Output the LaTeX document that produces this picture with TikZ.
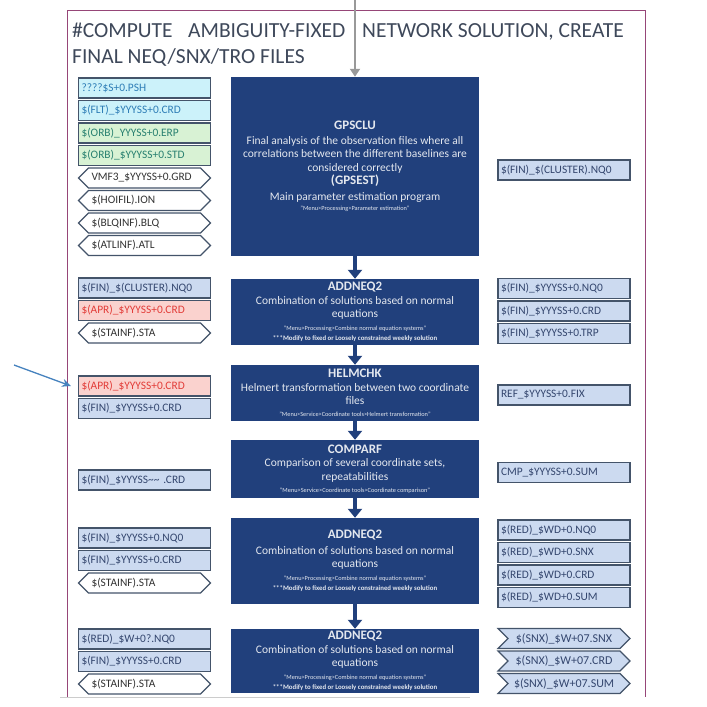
\documentclass[tikz,border=0pt]{standalone}
\usepackage{fontspec}
\setmainfont{Carlito}
\usetikzlibrary{arrows.meta,shapes.symbols}
\definecolor{navy}{RGB}{33,64,124}
\definecolor{framecol}{RGB}{150,70,120}
\definecolor{edgecol}{RGB}{68,84,106}
\definecolor{titlecol}{RGB}{62,72,90}
\definecolor{pointcol}{RGB}{70,130,190}
\definecolor{aquafill}{RGB}{204,242,250}
\definecolor{aquatext}{RGB}{46,125,182}
\definecolor{greenfill}{RGB}{216,242,212}
\definecolor{greentext}{RGB}{40,128,112}
\definecolor{pinkfill}{RGB}{250,210,206}
\definecolor{pinktext}{RGB}{226,60,56}
\definecolor{bluefill}{RGB}{204,218,240}
\definecolor{bluetext}{RGB}{52,70,110}
\def\progtitle#1{{\fontsize{13}{13.5}\selectfont\bfseries #1}}
\def\menuline#1{{\fontsize{6.3}{6.5}\selectfont "#1"}}
\def\modline{{\fontsize{6.8}{7}\selectfont\bfseries ***Modify to fixed or Loosely constrained weekly solution}}
\tikzset{
  file/.style={draw=edgecol, line width=1.1pt, minimum width=132pt, minimum height=20pt,
    text width=126pt, align=left, inner sep=0pt, font=\fontsize{11.4}{12}\selectfont},
  aqua/.style={file, fill=aquafill, text=aquatext},
  green/.style={file, fill=greenfill, text=greentext},
  pink/.style={file, fill=pinkfill, text=pinktext},
  blue/.style={file, fill=bluefill, text=bluetext},
  info/.style={shape=signal, signal to=east and west, draw=edgecol, line width=1.1pt, fill=white,
    minimum width=132pt, minimum height=20pt, text width=106pt, align=left, inner sep=0pt,
    text=black!80, font=\fontsize{11.4}{12}\selectfont},
  snx/.style={shape=signal, signal from=west, signal to=east, draw=edgecol, line width=1.1pt,
    fill=bluefill, minimum width=132pt, minimum height=20pt, text width=100pt, align=center,
    inner sep=0pt, text=bluetext, font=\fontsize{12}{13}\selectfont},
  prog/.style={fill=navy, minimum width=248pt, align=center, inner sep=0pt,
    text=white!88!navy, font=\fontsize{11.5}{13.5}\selectfont},
  flow/.style={navy, line width=4.5pt, -{Triangle[width=14pt,length=9pt]}},
  feed/.style={black!40, line width=2.8pt, -{Triangle[width=10pt,length=8pt]}},
  pointer/.style={pointcol, line width=1.3pt, -{Stealth[width=8pt,length=9pt]}},
  head/.style={anchor=base west, inner sep=0pt, text=titlecol, font=\fontsize{21.5}{24}\selectfont}
}

\begin{document}
\begin{tikzpicture}[x=1pt,y=-1pt]
  \useasboundingbox (0,0) rectangle (707,707);

  %%%%% frame and heading %%%%%
  \draw[framecol, line width=1pt] (67,697) -- (67,10) -- (645,10) -- (645,697);
  \draw[black!20, line width=1pt] (60,697) -- (470,697);

  \node[head] (head1) at (72,37) {\#COMPUTE};
  \node[head] (head2) at (188,37) {AMBIGUITY-FIXED};
  \node[head] (head3) at (362,37) {NETWORK SOLUTION, CREATE};
  \node[head] (head4) at (72,63) {FINAL NEQ/SNX/TRO FILES};

  %%%%% programs %%%%%
  \node[prog, minimum height=179pt] (clu) at (355,166.5)
    {\progtitle{GPSCLU}\\[1pt]
     Final analysis of the observation files where all\\
     correlations between the different baselines are\\
     considered correctly\\
     \progtitle{(GPSEST)}\\[2pt]
     Main parameter estimation program\\[-3pt]
     \menuline{Menu>Processing>Parameter estimation}};
  \node[prog, minimum height=66pt] (add1) at (355,312)
    {\progtitle{ADDNEQ2}\\
     Combination of solutions based on normal\\
     equations\\[-1pt]
     \menuline{Menu>Processing>Combine normal equation systems}\\[-3pt]
     \modline};
  \node[prog, minimum height=56pt] (helm) at (355,393)
    {\progtitle{HELMCHK}\\
     Helmert transformation between two coordinate\\
     files\\[-2pt]
     \menuline{Menu>Service>Coordinate tools>Helmert transformation}};
  \node[prog, minimum height=58pt] (comp) at (355,469)
    {\progtitle{COMPARF}\\
     Comparison of several coordinate sets,\\
     repeatabilities\\[-1pt]
     \menuline{Menu>Service>Coordinate tools>Coordinate comparison}};
  \node[prog, minimum height=86pt] (add2) at (355,561)
    {\progtitle{ADDNEQ2}\\[2pt]
     Combination of solutions based on normal\\
     equations\\[-1pt]
     \menuline{Menu>Processing>Combine normal equation systems}\\[-3pt]
     \modline};
  \node[prog, minimum height=64pt] (add3) at (355,661)
    {\progtitle{ADDNEQ2}\\
     Combination of solutions based on normal\\
     equations\\[-1pt]
     \menuline{Menu>Processing>Combine normal equation systems}\\[-3pt]
     \modline};

  \coordinate (start) at (355,0);
  \draw[feed] (start) -- (clu);
  \draw[flow] (clu) -- (add1);
  \draw[flow] (add1) -- (helm);
  \draw[flow] (helm) -- (comp);
  \draw[flow] (comp) -- (add2);
  \draw[flow] (add2) -- (add3);

  %%%%% input files %%%%%
  \node[aqua] (psh) at (144.5,88) {????\$S+0.PSH};
  \node[aqua] (fltcrd) at (144.5,110.5) {\$(FLT)\_\$YYYSS+0.CRD};
  \node[green] (erp) at (144.5,133) {\$(ORB)\_YYYSS+0.ERP};
  \node[green] (std) at (144.5,155.5) {\$(ORB)\_\$YYYSS+0.STD};
  \node[info] (grd) at (144.5,178) {VMF3\_\$YYYSS+0.GRD};
  \node[info] (ion) at (144.5,200.5) {\$(HOIFIL).ION};
  \node[info] (blq) at (144.5,223) {\$(BLQINF).BLQ};
  \node[info] (atl) at (144.5,245.5) {\$(ATLINF).ATL};

  \node[blue] (clunq) at (144.5,288) {\$(FIN)\_\$(CLUSTER).NQ0};
  \node[pink] (aprcrd) at (144.5,310.5) {\$(APR)\_\$YYYSS+0.CRD};
  \node[info] (sta1) at (144.5,333) {\$(STAINF).STA};

  \node[pink] (aprcrd2) at (144.5,386) {\$(APR)\_\$YYYSS+0.CRD};
  \node[blue] (fincrd) at (144.5,408.5) {\$(FIN)\_\$YYYSS+0.CRD};

  \node[blue] (fincrds) at (144.5,480) {\$(FIN)\_\$YYYSS\textasciitilde\textasciitilde{} .CRD};

  \node[blue] (finnq) at (144.5,538) {\$(FIN)\_\$YYYSS+0.NQ0};
  \node[blue] (fincrd2) at (144.5,560.5) {\$(FIN)\_\$YYYSS+0.CRD};
  \node[info] (sta2) at (144.5,583) {\$(STAINF).STA};

  \node[blue] (rednq) at (144.5,639) {\$(RED)\_\$W+0?.NQ0};
  \node[blue] (fincrd3) at (144.5,661.5) {\$(FIN)\_\$YYYSS+0.CRD};
  \node[info] (sta3) at (144.5,684) {\$(STAINF).STA};

  \coordinate (tail) at (14,365);
  \coordinate (tip) at (71,386);
  \draw[pointer] (tail) -- (tip);

  %%%%% output files %%%%%
  \node[blue] (outclu) at (564,170) {\$(FIN)\_\$(CLUSTER).NQ0};

  \node[blue] (outnq) at (564,288.5) {\$(FIN)\_\$YYYSS+0.NQ0};
  \node[blue] (outcrd) at (564,311) {\$(FIN)\_\$YYYSS+0.CRD};
  \node[blue] (outtrp) at (564,333.5) {\$(FIN)\_\$YYYSS+0.TRP};

  \node[blue] (fix) at (564,395) {REF\_\$YYYSS+0.FIX};

  \node[blue] (sum) at (564,472.5) {CMP\_\$YYYSS+0.SUM};

  \node[blue] (rednq2) at (564,530) {\$(RED)\_\$WD+0.NQ0};
  \node[blue] (redsnx) at (564,552.5) {\$(RED)\_\$WD+0.SNX};
  \node[blue] (redcrd) at (564,575) {\$(RED)\_\$WD+0.CRD};
  \node[blue] (redsum) at (564,597.5) {\$(RED)\_\$WD+0.SUM};

  \node[snx] (snx1) at (564,638.5) {\$(SNX)\_\$W+07.SNX};
  \node[snx] (snx2) at (564,661) {\$(SNX)\_\$W+07.CRD};
  \node[snx] (snx3) at (564,683.5) {\$(SNX)\_\$W+07.SUM};
\end{tikzpicture}
\end{document}
